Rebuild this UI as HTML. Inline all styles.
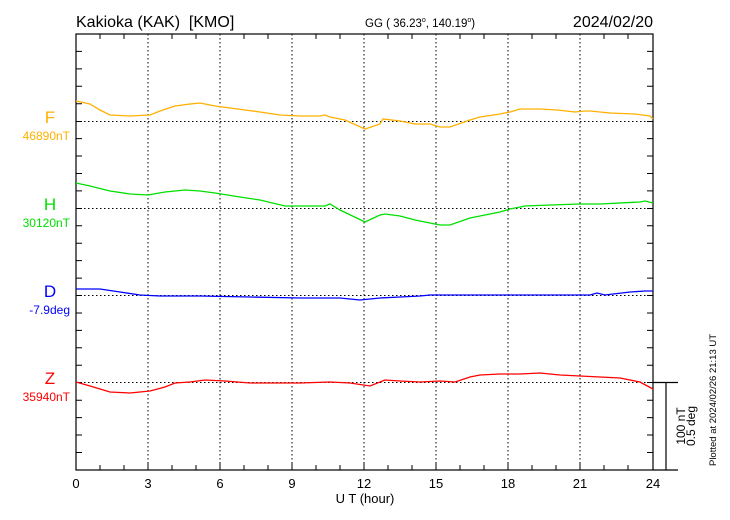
<!DOCTYPE html>
<html><head><meta charset="utf-8"><style>
html,body{margin:0;padding:0;background:#fff;}
svg{display:block;font-family:"Liberation Sans",sans-serif;}
</style></head><body>
<svg width="730" height="520" viewBox="0 0 730 520" xmlns="http://www.w3.org/2000/svg">
<rect width="730" height="520" fill="#fff"/>
<text x="76" y="27" font-size="16">Kakioka (KAK)&#160; [KMO]</text>
<text x="365" y="27" font-size="11.5">GG ( 36.23<tspan font-size="7" dy="-5">o</tspan><tspan dy="5">, 140.19</tspan><tspan font-size="7" dy="-5">o</tspan><tspan dy="5">)</tspan></text>
<text x="653" y="27" font-size="16" text-anchor="end">2024/02/20</text>
<g stroke="#000" stroke-width="1" stroke-dasharray="1.5,2.5" fill="none">
<line x1="148" y1="34" x2="148" y2="470"/><line x1="220" y1="34" x2="220" y2="470"/>
<line x1="292" y1="34" x2="292" y2="470"/><line x1="364" y1="34" x2="364" y2="470"/>
<line x1="436" y1="34" x2="436" y2="470"/><line x1="508" y1="34" x2="508" y2="470"/>
<line x1="580" y1="34" x2="580" y2="470"/>
<line x1="76" y1="121.5" x2="653" y2="121.5"/><line x1="76" y1="208.5" x2="653" y2="208.5"/>
<line x1="76" y1="295.5" x2="653" y2="295.5"/><line x1="76" y1="382.5" x2="653" y2="382.5"/>
</g>
<g stroke="#000" stroke-width="1.2" fill="none">
<rect x="76" y="34" width="577" height="436"/>
<line x1="653" y1="470" x2="678" y2="470"/>
<line x1="653" y1="382.5" x2="678" y2="382.5"/>
<line x1="666" y1="382.5" x2="666" y2="470"/>
</g>
<g stroke="#000" stroke-width="1">
<path d="M100,34v5M124,34v5M172,34v5M196,34v5M244,34v5M268,34v5M316,34v5M340,34v5M388,34v5M412,34v5M460,34v5M484,34v5M532,34v5M556,34v5M604,34v5M628,34v5
M100,470v-5M124,470v-5M148,470v-7M172,470v-5M196,470v-5M220,470v-7M244,470v-5M268,470v-5M292,470v-7M316,470v-5M340,470v-5M364,470v-7M388,470v-5M412,470v-5M436,470v-7M460,470v-5M484,470v-5M508,470v-7M532,470v-5M556,470v-5M580,470v-7M604,470v-5M628,470v-5"/>
<path d="M76,51.4h6M76,68.9h6M76,86.3h6M76,103.8h6M76,121.5h6M76,138.6h6M76,156h6M76,173.5h6M76,190.9h6M76,208.5h6M76,225.8h6M76,243.2h6M76,260.6h6M76,278.1h6M76,295.5h6M76,313h6M76,330.4h6M76,347.8h6M76,365.3h6M76,382.5h6M76,400.2h6M76,417.6h6M76,435h6M76,452.5h6
M653,51.4h-6M653,68.9h-6M653,86.3h-6M653,103.8h-6M653,121.5h-6M653,138.6h-6M653,156h-6M653,173.5h-6M653,190.9h-6M653,208.5h-6M653,225.8h-6M653,243.2h-6M653,260.6h-6M653,278.1h-6M653,295.5h-6M653,313h-6M653,330.4h-6M653,347.8h-6M653,365.3h-6M653,382.5h-6M653,400.2h-6M653,417.6h-6M653,435h-6M653,452.5h-6"/>
</g>
<g fill="none" stroke-width="1.3">
<polyline stroke="#ffb000" points="76,101 90,104 100,110 110,115 130,116 150,115 160,111 175,106 190,104 200,103 205,104 215,106 230,108 245,110 260,112 280,115 300,116 320,116 325,115 330,117 345,120 365,129 380,124 383,119 400,121 415,124 430,124 440,127 450,127 470,120 480,117 500,114 510,112 520,109 540,109 557,110 575,112 585,111 590,111 610,113 635,114 650,116 653,119"/>
<polyline stroke="#00e000" points="76,183 90,186 110,191 130,194 148,195 165,192 185,190 200,191 215,193 240,197 260,200 285,206 300,206 325,206 330,204 340,210 365,222 380,215 385,214 400,216 415,220 440,225 450,225 470,218 500,212 510,209 525,206 550,205 580,204 600,204 640,202 645,201 653,203"/>
<polyline stroke="#0000ff" points="76,289 100,289 120,292 140,295 160,296 200,296 250,297 300,298 340,298 360,300 380,298 400,297 420,296 430,295 460,295 500,295 560,295 590,295 597,293 605,295 630,292 645,291 653,291"/>
<polyline stroke="#ff0000" points="76,382 90,386 110,392 130,393 150,391 165,387 175,383 190,382 205,380 225,381 250,383 280,383 300,383 330,382 350,383 370,386 385,380 400,381 420,382 440,381 455,382 470,377 480,375 500,374 520,374 540,373 560,375 580,376 600,377 620,378 640,382 653,389"/>
</g>
<g font-size="17" text-anchor="middle">
<text x="50" y="123" fill="#ffb000">F</text>
<text x="50" y="210" fill="#00e000">H</text>
<text x="50" y="297" fill="#0000ff">D</text>
<text x="50" y="384" fill="#ff0000">Z</text>
</g>
<g font-size="12" text-anchor="end">
<text x="70" y="140" fill="#ffb000">46890nT</text>
<text x="70" y="227" fill="#00e000">30120nT</text>
<text x="70" y="314" fill="#0000ff">-7.9deg</text>
<text x="70" y="401" fill="#ff0000">35940nT</text>
</g>
<g font-size="13" text-anchor="middle">
<text x="76" y="488">0</text><text x="148" y="488">3</text><text x="220" y="488">6</text>
<text x="292" y="488">9</text><text x="364" y="488">12</text><text x="436" y="488">15</text>
<text x="508" y="488">18</text><text x="580" y="488">21</text><text x="653" y="488">24</text>
<text x="365" y="503">U T (hour)</text>
</g>
<text transform="translate(685,426) rotate(-90)" font-size="12" text-anchor="middle">100 nT</text>
<text transform="translate(695,426) rotate(-90)" font-size="12" text-anchor="middle">0.5 deg</text>
<text transform="translate(716,400) rotate(-90)" font-size="9.5" text-anchor="middle">Plotted at 2024/02/26 21:13 UT</text>
</svg>
</body></html>
